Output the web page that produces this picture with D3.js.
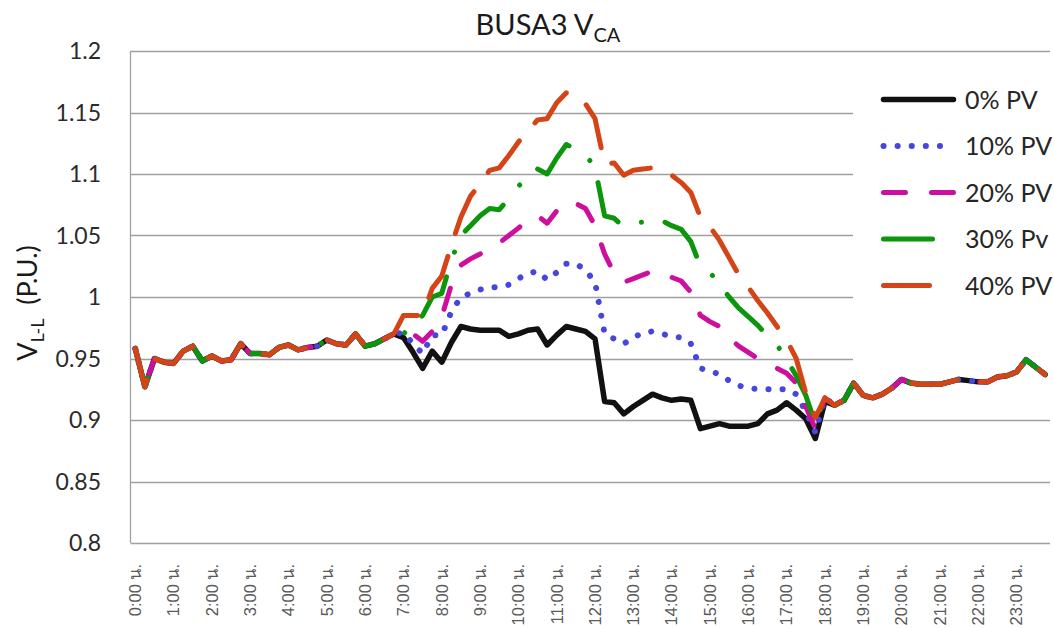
<!DOCTYPE html>
<html>
<head>
<meta charset="utf-8">
<script src="https://cdn.jsdelivr.net/npm/d3@7"></script>
<style>
  html, body { margin: 0; padding: 0; background: #fff; }
  svg { display: block; }
</style>
</head>
<body>
<svg id="chart" width="1054" height="628"></svg>
<script>
// Hour tick labels along the time axis
const hourLabels = [
  "0:00 น.", "1:00 น.", "2:00 น.", "3:00 น.", "4:00 น.", "5:00 น.",
  "6:00 น.", "7:00 น.", "8:00 น.", "9:00 น.", "10:00 น.", "11:00 น.",
  "12:00 น.", "13:00 น.", "14:00 น.", "15:00 น.", "16:00 น.", "17:00 น.",
  "18:00 น.", "19:00 น.", "20:00 น.", "21:00 น.", "22:00 น.", "23:00 น."
];
const minuteMarks = ["00", "15", "30", "45"];

const yTicks = [0.8, 0.85, 0.9, 0.95, 1, 1.05, 1.1, 1.15, 1.2];

// Line-to-line voltage (p.u.) every 15 minutes, 0:00 - 23:45
const pv0 = [
  0.958, 0.927, 0.950, 0.947, 0.946, 0.956, 0.960, 0.948, 0.952, 0.948, 0.949, 0.962,
  0.954, 0.954, 0.953, 0.959, 0.961, 0.957, 0.959, 0.960, 0.965, 0.962, 0.961, 0.970,
  0.960, 0.962, 0.966, 0.970, 0.967, 0.955, 0.942, 0.956, 0.947, 0.963, 0.976, 0.974,
  0.973, 0.973, 0.973, 0.968, 0.970, 0.973, 0.974, 0.961, 0.969, 0.976, 0.974, 0.972,
  0.966, 0.915, 0.914, 0.905, 0.911, 0.916, 0.921, 0.918, 0.916, 0.917, 0.916, 0.893,
  0.895, 0.897, 0.895, 0.895, 0.895, 0.897, 0.905, 0.908, 0.914, 0.908, 0.901, 0.885,
  0.915, 0.912, 0.916, 0.930, 0.920, 0.918, 0.921, 0.926, 0.933, 0.930, 0.929, 0.929,
  0.929, 0.931, 0.933, 0.932, 0.931, 0.931, 0.935, 0.936, 0.939, 0.949, 0.943, 0.937
];
const pv10 = [
  0.958, 0.927, 0.950, 0.947, 0.946, 0.956, 0.960, 0.948, 0.952, 0.948, 0.949, 0.962,
  0.954, 0.954, 0.953, 0.959, 0.961, 0.957, 0.959, 0.960, 0.965, 0.962, 0.961, 0.970,
  0.960, 0.962, 0.966, 0.970, 0.971, 0.962, 0.954, 0.969, 0.969, 0.988, 1.000, 1.003,
  1.006, 1.008, 1.008, 1.010, 1.015, 1.019, 1.021, 1.014, 1.020, 1.027, 1.027, 1.022,
  1.012, 0.970, 0.966, 0.962, 0.967, 0.971, 0.972, 0.970, 0.968, 0.967, 0.962, 0.942,
  0.940, 0.937, 0.932, 0.928, 0.926, 0.925, 0.925, 0.925, 0.925, 0.921, 0.907, 0.890,
  0.918, 0.912, 0.916, 0.930, 0.920, 0.918, 0.921, 0.926, 0.933, 0.930, 0.929, 0.929,
  0.929, 0.931, 0.933, 0.932, 0.931, 0.931, 0.935, 0.936, 0.939, 0.949, 0.943, 0.937
];
const pv20 = [
  0.958, 0.927, 0.950, 0.947, 0.946, 0.956, 0.960, 0.948, 0.952, 0.948, 0.949, 0.962,
  0.954, 0.954, 0.953, 0.959, 0.961, 0.957, 0.959, 0.960, 0.965, 0.962, 0.961, 0.970,
  0.960, 0.962, 0.966, 0.970, 0.972, 0.970, 0.964, 0.972, 0.984, 1.010, 1.026, 1.031,
  1.035, 1.040, 1.044, 1.050, 1.056, 1.063, 1.066, 1.060, 1.070, 1.077, 1.076, 1.072,
  1.058, 1.035, 1.019, 1.012, 1.015, 1.018, 1.021, 1.019, 1.016, 1.013, 1.004, 0.985,
  0.980, 0.976, 0.967, 0.960, 0.955, 0.950, 0.946, 0.942, 0.938, 0.930, 0.911, 0.893,
  0.918, 0.912, 0.916, 0.930, 0.920, 0.918, 0.921, 0.926, 0.933, 0.930, 0.929, 0.929,
  0.929, 0.931, 0.933, 0.932, 0.931, 0.931, 0.935, 0.936, 0.939, 0.949, 0.943, 0.937
];
const pv30 = [
  0.958, 0.927, 0.950, 0.947, 0.946, 0.956, 0.960, 0.948, 0.952, 0.948, 0.949, 0.962,
  0.954, 0.954, 0.953, 0.959, 0.961, 0.957, 0.959, 0.960, 0.965, 0.962, 0.961, 0.970,
  0.960, 0.962, 0.966, 0.970, 0.970, 0.978, 0.985, 1.000, 1.003, 1.030, 1.050, 1.058,
  1.066, 1.072, 1.071, 1.080, 1.090, 1.098, 1.104, 1.100, 1.113, 1.124, 1.120, 1.116,
  1.105, 1.066, 1.064, 1.057, 1.060, 1.061, 1.062, 1.062, 1.058, 1.055, 1.045, 1.025,
  1.020, 1.010, 1.000, 0.991, 0.984, 0.977, 0.968, 0.961, 0.949, 0.936, 0.920, 0.897,
  0.918, 0.912, 0.916, 0.930, 0.920, 0.918, 0.921, 0.926, 0.933, 0.930, 0.929, 0.929,
  0.929, 0.931, 0.933, 0.932, 0.931, 0.931, 0.935, 0.936, 0.939, 0.949, 0.943, 0.937
];
const pv40 = [
  0.958, 0.927, 0.950, 0.947, 0.946, 0.956, 0.960, 0.948, 0.952, 0.948, 0.949, 0.962,
  0.954, 0.954, 0.953, 0.959, 0.961, 0.957, 0.959, 0.960, 0.965, 0.962, 0.961, 0.970,
  0.960, 0.962, 0.966, 0.970, 0.985, 0.985, 0.985, 1.007, 1.017, 1.042, 1.065, 1.082,
  1.092, 1.103, 1.105, 1.115, 1.126, 1.135, 1.144, 1.145, 1.158, 1.166, 1.164, 1.157,
  1.145, 1.108, 1.109, 1.099, 1.103, 1.104, 1.105, 1.103, 1.099, 1.093, 1.085, 1.065,
  1.057, 1.046, 1.032, 1.018, 1.008, 0.997, 0.987, 0.976, 0.965, 0.950, 0.922, 0.902,
  0.918, 0.912, 0.916, 0.930, 0.920, 0.918, 0.921, 0.926, 0.933, 0.930, 0.929, 0.929,
  0.929, 0.931, 0.933, 0.932, 0.931, 0.931, 0.935, 0.936, 0.939, 0.949, 0.943, 0.937
];

const seriesNames = ["0% PV", "10% PV", "20% PV", "30% Pv", "40% PV"];
const seriesValues = [pv0, pv10, pv20, pv30, pv40];

// 15-minute time slots
const slots = [];
hourLabels.forEach((h, i) => minuteMarks.forEach(m => slots.push(i + ":" + m)));

// Line styles per series
const styles = [
  { color: "#111111", width: 5.5, dash: null },
  { color: "#4646dc", width: 6,   dash: "0.1,14" },
  { color: "#cc0f9e", width: 5,   dash: "22,26" },
  { color: "#0b960b", width: 5,   dash: "49,26,0.1,24" },
  { color: "#d44416", width: 5,   dash: "46,24" }
];

const svg = d3.select("#chart");
const W = 1054, H = 628;
const plot = { left: 130.5, right: 1050, top: 51, bottom: 543 };

const x = d3.scaleBand().domain(slots).range([plot.left, plot.right]).paddingInner(0).paddingOuter(0);
const cx = d => x(d) + x.bandwidth() / 2;
const y = d3.scaleLinear().domain([0.8, 1.2]).range([plot.bottom, plot.top]);

// Gridlines
svg.append("g").selectAll("line").data(yTicks).join("line")
  .attr("x1", plot.left).attr("x2", plot.right)
  .attr("y1", d => Math.round(y(d)) + 0.5).attr("y2", d => Math.round(y(d)) + 0.5)
  .attr("stroke", "#a0a0a0").attr("stroke-width", 1.3);

// Left axis line
svg.append("line")
  .attr("x1", plot.left).attr("x2", plot.left)
  .attr("y1", plot.top).attr("y2", plot.bottom)
  .attr("stroke", "#a0a0a0").attr("stroke-width", 1.3);

// Legend backdrop
svg.append("rect")
  .attr("x", 853).attr("y", 62).attr("width", W - 853).attr("height", 302)
  .attr("fill", "#fff");

// Y tick labels
svg.append("g").selectAll("text").data(yTicks).join("text")
  .attr("x", 101).attr("y", d => y(d))
  .attr("dy", "0.36em")
  .attr("text-anchor", "end")
  .attr("font-family", "Lato, 'Open Sans', sans-serif")
  .attr("font-size", 23)
  .attr("fill", "#2b2b2b")
  .text(d => String(d));

// X tick labels (hours only)
const hourSlots = slots.filter((s, i) => i % 4 === 0);
svg.append("g").selectAll("text").data(hourSlots).join("text")
  .attr("transform", (d) => `translate(${cx(d)},564) rotate(-90)`)
  .attr("dy", "0.35em")
  .attr("text-anchor", "end")
  .attr("font-family", "'Liberation Sans', Arial, 'Noto Sans', sans-serif")
  .attr("font-size", 16.5)
  .attr("fill", "#595959")
  .text((d, i) => hourLabels[i]);

// Series lines
const line = d3.line().x((v, i) => cx(slots[i])).y(v => y(v)).curve(d3.curveLinear);
seriesValues.forEach((vals, k) => {
  const st = styles[k];
  svg.append("path")
    .datum(vals)
    .attr("d", line)
    .attr("fill", "none")
    .attr("stroke", st.color)
    .attr("stroke-width", st.width)
    .attr("stroke-linecap", "round")
    .attr("stroke-linejoin", "round")
    .attr("stroke-dasharray", st.dash);
});

// Legend
const lg = svg.append("g");
seriesNames.forEach((name, k) => {
  const st = styles[k];
  const ly = 99.5 + k * 46.5;
  lg.append("line")
    .attr("x1", 883.5).attr("x2", 953.5)
    .attr("y1", ly).attr("y2", ly)
    .attr("stroke", st.color)
    .attr("stroke-width", st.width)
    .attr("stroke-linecap", "round")
    .attr("stroke-dasharray", st.dash);
  lg.append("text")
    .attr("x", 965).attr("y", ly + 9)
    .attr("font-family", "Lato, 'Open Sans', sans-serif")
    .attr("font-size", 25)
    .attr("fill", "#262626")
    .text(name);
});

// Title
const title = svg.append("text")
  .attr("x", 548).attr("y", 35)
  .attr("text-anchor", "middle")
  .attr("font-family", "Lato, 'Open Sans', sans-serif")
  .attr("font-size", 29)
  .attr("fill", "#1a1a1a");
title.append("tspan").text("BUSA3 V");
title.append("tspan").attr("dy", 7).attr("font-size", 20).text("CA");

// Y axis title
const yTitle = svg.append("text")
  .attr("transform", `translate(37,${(plot.top + plot.bottom) / 2 + 6}) rotate(-90)`)
  .attr("text-anchor", "middle")
  .attr("font-family", "Lato, 'Open Sans', sans-serif")
  .attr("font-size", 27)
  .attr("fill", "#1a1a1a");
yTitle.append("tspan").text("V");
yTitle.append("tspan").attr("dy", 7).attr("font-size", 18).text("L-L");
yTitle.append("tspan").attr("dy", -7).text("\u00a0\u00a0(P.U.)");
</script>
</body>
</html>
